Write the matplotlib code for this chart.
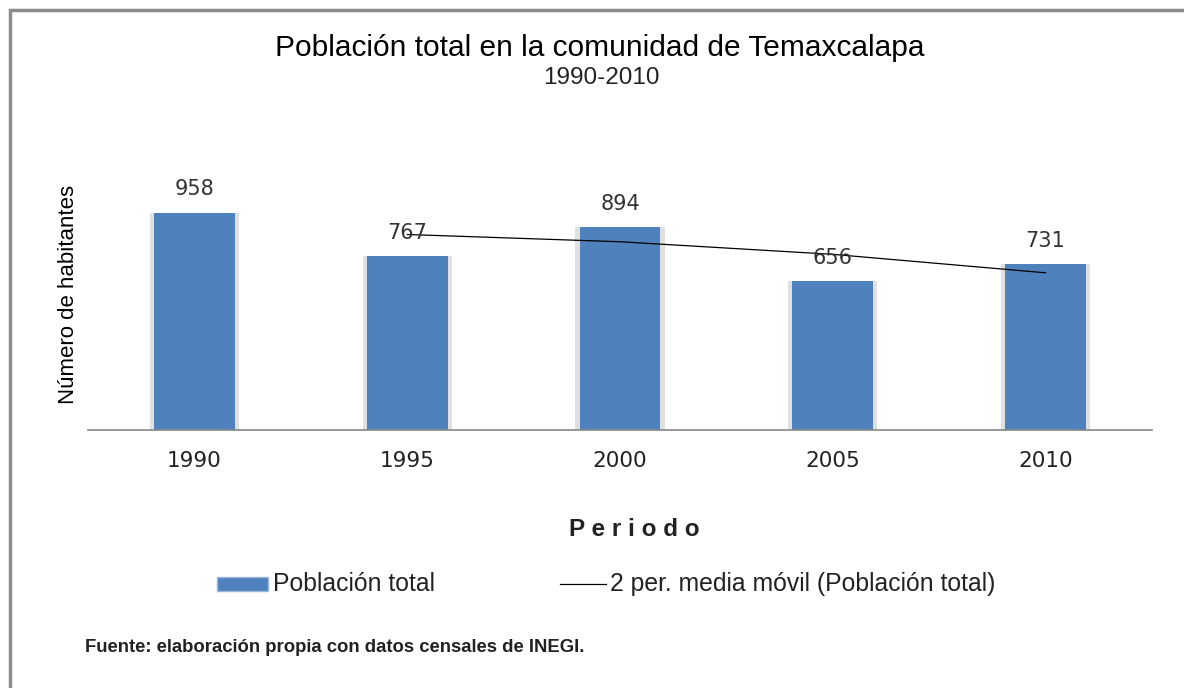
import matplotlib
matplotlib.use("Agg")
import matplotlib.pyplot as plt
import pandas as pd
from matplotlib.patches import Rectangle
from matplotlib.lines import Line2D

years = ["1990", "1995", "2000", "2005", "2010"]
poblacion = [958, 767, 894, 656, 731]
media_movil = pd.Series(poblacion).rolling(2).mean()  # Excel 2-period moving average

BLUE, INK, GRID = "#4f81bd", "#000000", "#888888"
FONT = "Liberation Sans"

W, H = 1184, 688
fig = plt.figure(figsize=(W / 100, H / 100), dpi=100)
fig.patch.set_facecolor("white")

# outer frame of the chart area
fig.patches.append(Rectangle((10 / W, -0.05), 1.2, (H - 10) / H + 0.05, transform=fig.transFigure,
                             fill=False, edgecolor="#8c8c8c", lw=2.5))

ax = fig.add_axes([88 / W, (H - 430) / H, 1064 / W, 272 / H])
x = range(len(years))
# soft shadow behind bars
ax.bar(x, poblacion, width=0.42, color="#e0e0e0", zorder=1)
ax.bar(x, poblacion, width=0.38, color=BLUE, zorder=2)
ax.plot(list(x)[1:], media_movil[1:], color=INK, lw=0.9, zorder=3)

for i, v in enumerate(poblacion):
    ax.text(i, v + 60, str(v), ha="center", va="bottom", fontsize=15,
            color="#333333", family="DejaVu Sans", zorder=4)

ax.set_xlim(-0.5, 4.5)
ax.set_ylim(0, 1200)
ax.set_yticks([])
ax.set_xticks(list(x))
ax.set_xticklabels(years, fontsize=15.5, family="DejaVu Sans", color="#222222")
ax.tick_params(axis="x", length=0, pad=15)
for s in ["top", "right", "left"]:
    ax.spines[s].set_visible(False)
ax.spines["bottom"].set_color(GRID)
ax.spines["bottom"].set_linewidth(1.2)
ax.patch.set_alpha(0)

fig.text(600 / W, 1 - 48 / H, "Población total en la comunidad de Temaxcalapa",
         ha="center", va="center", fontsize=21.5, family=FONT, color=INK)
fig.text(601 / W, 1 - 78 / H, "1990-2010", ha="center", va="center",
         fontsize=17.5, family=FONT, color="#222222")
fig.text(68 / W, 1 - 294 / H, "Número de habitantes", rotation=90, ha="center",
         va="center", fontsize=16, family=FONT, color=INK)
fig.text(634 / W, 1 - 530 / H, "P e r i o d o", ha="center", va="center",
         fontsize=17.5, fontweight="bold", family=FONT, color="#222222")

# legend
fig.patches.append(Rectangle((217 / W, 1 - 591 / H), 51 / W, 14 / H, transform=fig.transFigure,
                             facecolor=BLUE, edgecolor="#9bb7da", lw=1))
fig.text(273 / W, 1 - 584 / H, "Población total", ha="left", va="center",
         fontsize=17.8, family=FONT, color="#222222")
fig.lines.append(Line2D([560 / W, 606 / W], [1 - 584 / H, 1 - 584 / H],
                        transform=fig.transFigure, color=INK, lw=0.9))
fig.text(610 / W, 1 - 584 / H, "2 per. media móvil (Población total)", ha="left", va="center",
         fontsize=17.8, family=FONT, color="#222222")

fig.text(85 / W, 1 - 648 / H, "Fuente: elaboración propia con datos censales de INEGI.",
         ha="left", va="center", fontsize=13.3, fontweight="bold", family=FONT, color="#222222")

fig.savefig("out.png", dpi=100)
